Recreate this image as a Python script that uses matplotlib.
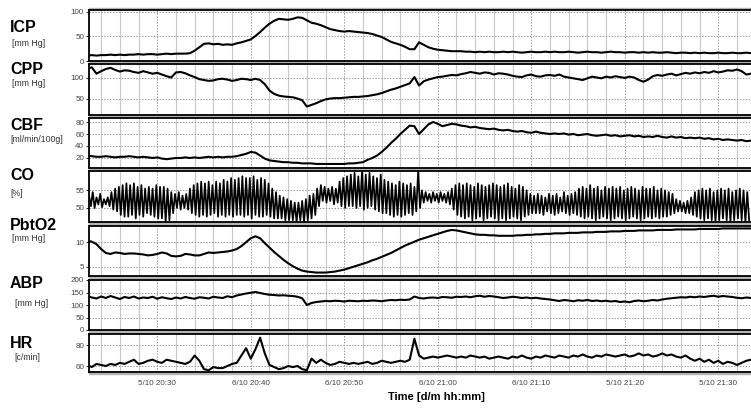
import numpy as np
import matplotlib
matplotlib.use('Agg')
import matplotlib.pyplot as plt
from matplotlib.patches import Rectangle

plt.rcParams['font.family'] = ['Liberation Sans', 'DejaVu Sans']

# --- dados (tempo em minutos depois das 20:00) ---
# grade comum: 22.5 .. 93.5 a cada 0.5 min (uma linha = 5 min)
t_inicio, t_passo = 22.5, 0.5

icp = [11, 12, 11, 12, 12, 13, 12, 13, 12, 13,
       13, 14, 13, 14, 14, 13, 14, 15, 14, 15,
       15, 15, 16, 21, 28, 35, 36, 34, 35, 33,
       34, 33, 36, 38, 41, 44, 51, 59, 68, 76,
       82, 86, 85, 84, 86, 89, 88, 83, 78, 76,
       73, 69, 65, 63, 61, 60, 61, 60, 59, 58,
       57, 55, 52, 49, 44, 39, 36, 33, 29, 24,
       24, 38, 33, 28, 25, 23, 22, 21, 20, 20,
       20, 19, 19, 18, 19, 18, 19, 18, 18, 19,
       18, 19, 18, 17, 18, 19, 18, 18, 19, 18,
       19, 18, 18, 19, 18, 17, 18, 19, 18, 18,
       17, 18, 19, 18, 18, 17, 18, 18, 17, 18,
       17, 18, 17, 17, 18, 17, 16, 17, 17, 16,
       17, 16, 17, 16, 16, 17, 16, 16, 17, 16,
       16, 17, 16]

cpp = [122, 125, 110, 116, 121, 124, 119, 115, 118, 117,
       114, 112, 116, 113, 110, 112, 108, 104, 101, 113,
       114, 111, 106, 102, 97, 95, 93, 94, 97, 98,
       96, 93, 95, 98, 97, 95, 98, 95, 85, 70,
       62, 58, 56, 55, 54, 51, 47, 32, 36, 40,
       45, 49, 51, 52, 52, 53, 54, 55, 55, 56,
       57, 59, 61, 64, 68, 72, 75, 79, 83, 87,
       102, 82, 92, 96, 99, 102, 103, 105, 107, 106,
       109, 111, 114, 112, 110, 113, 112, 108, 111, 110,
       108, 105, 103, 102, 106, 108, 104, 103, 106, 107,
       105, 108, 103, 101, 99, 97, 95, 99, 103, 101,
       99, 103, 101, 104, 102, 100, 103, 101, 95, 91,
       96, 104, 107, 105, 108, 110, 106, 109, 112, 110,
       113, 111, 114, 112, 116, 113, 115, 118, 117, 120,
       116, 108, 110]

cbf = [24, 23, 22, 22, 23, 22, 21, 22, 22, 23,
       22, 21, 22, 21, 20, 21, 19, 18, 19, 20,
       20, 21, 20, 21, 20, 21, 22, 21, 22, 21,
       22, 22, 23, 25, 27, 30, 29, 24, 19, 16,
       15, 14, 13, 13, 12, 12, 11, 11, 11, 10,
       10, 10, 10, 10, 10, 10, 11, 11, 12, 13,
       17, 20, 24, 30, 37, 45, 52, 60, 67, 74,
       73, 60, 68, 76, 80, 77, 73, 75, 77, 76,
       74, 73, 71, 72, 70, 69, 68, 69, 67, 66,
       67, 65, 64, 65, 63, 62, 64, 62, 61, 60,
       61, 60, 61, 59, 60, 58, 59, 60, 58, 57,
       58, 59, 57, 58, 56, 57, 58, 56, 57, 55,
       56, 55, 57, 55, 54, 56, 54, 55, 53, 54,
       53, 54, 52, 53, 51, 52, 50, 51, 50, 49,
       50, 48, 49]

pbto2 = [10.3, 10.1, 9.6, 8.6, 7.8, 7.6, 7.9, 7.8, 7.6, 7.7,
         7.7, 7.6, 7.5, 7.3, 7.4, 7.6, 7.9, 7.7, 7.2, 7.1,
         7.2, 7.6, 7.5, 7.3, 7.3, 7.6, 7.9, 7.8, 7.9, 8.0,
         8.1, 8.3, 8.6, 9.2, 10.0, 10.8, 11.2, 10.8, 9.8, 8.9,
         8.0, 7.2, 6.4, 5.7, 5.1, 4.6, 4.2, 4.0, 3.9, 3.8,
         3.8, 3.8, 3.9, 4.0, 4.2, 4.4, 4.7, 5.0, 5.3, 5.6,
         5.9, 6.3, 6.6, 7.0, 7.4, 7.8, 8.3, 8.8, 9.3, 9.7,
         10.1, 10.5, 10.8, 11.1, 11.4, 11.7, 12.0, 12.3, 12.5, 12.4,
         12.2, 12.0, 11.8, 11.6, 11.5, 11.5, 11.4, 11.4, 11.3, 11.3,
         11.3, 11.3, 11.4, 11.4, 11.5, 11.5, 11.6, 11.6, 11.7, 11.7,
         11.8, 11.8, 11.8, 11.9, 11.9, 11.9, 12.0, 12.0, 12.0, 12.1,
         12.1, 12.1, 12.2, 12.2, 12.2, 12.3, 12.3, 12.3, 12.4, 12.4,
         12.4, 12.4, 12.5, 12.5, 12.5, 12.5, 12.6, 12.6, 12.6, 12.6,
         12.6, 12.7, 12.7, 12.7, 12.7, 12.7, 12.8, 12.8, 12.8, 12.8,
         12.8, 12.8, 12.8]

abp = [136, 130, 126, 134, 128, 136, 130, 124, 132, 128,
       134, 126, 130, 128, 133, 125, 131, 127, 124, 130,
       126, 132, 128, 125, 131, 129, 126, 133, 130, 128,
       135, 131, 138, 142, 146, 149, 152, 148, 144, 141,
       140, 138, 139, 137, 136, 133, 127, 100, 108, 112,
       114, 116, 115, 117, 116, 114, 117, 116, 115, 117,
       116, 118, 117, 115, 118, 120, 119, 121, 120, 122,
       134, 128, 126, 129, 130, 128, 132, 131, 129, 133,
       132, 134, 131, 135, 137, 133, 136, 134, 131, 128,
       130, 133, 131, 128, 130, 127, 129, 126, 124, 122,
       119, 116, 120, 118, 115, 119, 117, 120, 116, 118,
       115, 117, 114, 116, 112, 114, 111, 116, 118, 115,
       117, 120, 118, 122, 125, 127, 129, 131, 130, 133,
       131, 134, 132, 135, 137, 133, 136, 134, 132, 129,
       127, 130, 128]

hr = [61, 59, 62, 61, 60, 62, 61, 63, 62, 64,
      66, 62, 63, 65, 66, 64, 63, 66, 65, 64,
      63, 62, 64, 70, 65, 57, 56, 59, 58, 58,
      60, 62, 63, 70, 77, 67, 76, 87, 72, 61,
      59, 57, 58, 60, 59, 60, 57, 56, 67, 63,
      66, 63, 61, 62, 64, 63, 62, 63, 62, 63,
      64, 62, 63, 65, 64, 63, 64, 65, 64, 66,
      86, 70, 67, 68, 69, 68, 69, 70, 69, 68,
      69, 68, 70, 69, 68, 69, 67, 68, 69, 68,
      67, 69, 68, 70, 68, 67, 69, 68, 70, 69,
      68, 70, 69, 68, 70, 69, 71, 69, 68, 70,
      69, 71, 70, 69, 70, 71, 69, 70, 72, 70,
      71, 69, 70, 72, 70, 71, 69, 68, 70, 67,
      65, 67, 64, 66, 63, 65, 62, 64, 63, 61,
      63, 65, 66]

# CO oscila rápido: picos e vales lidos a cada 0.4 min (uma linha = 4 min)
co_inicio, co_passo = 22.7, 0.4
co_picos = [53.5, 54.5, 53.0, 54.0, 52.5, 53.0, 54.5, 55.5, 56.0, 56.5,
            57.0, 56.5, 57.0, 56.0, 56.5, 55.5, 56.0, 55.5, 56.5, 56.0,
            56.0, 55.5, 54.5, 54.0, 54.5, 53.5, 54.0, 55.5, 56.5, 57.0,
            57.5, 57.0, 57.5, 56.5, 57.5, 57.0, 58.0, 57.5, 58.5, 58.0,
            58.5, 59.0, 58.5, 58.5, 59.0, 58.0, 58.5, 58.0, 57.0, 55.5,
            54.5, 53.5, 53.0, 52.5, 52.0, 51.5, 51.5, 52.0, 52.5, 53.5,
            54.0, 55.5, 56.5, 56.0, 55.5, 56.0, 55.5, 57.5, 58.5, 59.0,
            59.5, 60.0, 59.0, 60.5, 59.5, 60.0, 59.0, 58.5, 59.5, 58.0,
            57.5, 57.0, 56.5, 57.5, 57.0, 56.5, 57.0, 56.0, 60.5, 55.0,
            54.5, 54.0, 54.5, 54.0, 54.5, 54.0, 54.5, 55.5, 56.5, 57.0,
            56.5, 57.0, 56.5, 56.0, 57.0, 56.5, 56.0, 56.5, 57.0, 56.5,
            56.0, 56.5, 57.0, 56.0, 55.5, 56.5, 56.0, 55.0, 54.0, 53.5,
            54.0, 53.5, 53.0, 54.0, 53.5, 54.0, 53.0, 54.5, 53.5, 54.0,
            54.5, 55.5, 56.0, 55.5, 56.5, 55.5, 56.0, 55.0, 56.0, 55.5,
            56.0, 55.5, 56.0, 55.0, 55.5, 56.0, 55.5, 55.0, 56.0, 55.5,
            55.5, 56.0, 55.0, 55.5, 55.0, 54.5, 54.0, 52.5, 52.0, 51.5,
            52.0, 53.0, 54.5, 55.0, 55.5, 55.0, 55.5, 54.5, 55.0, 55.5,
            55.0, 55.5, 54.5, 55.0, 55.5, 55.0, 54.5]
co_vales = [50.5, 50.0, 51.0, 50.2, 51.0, 50.5, 49.5, 49.0, 48.0, 47.5,
            47.5, 48.0, 47.0, 48.0, 47.5, 48.5, 48.0, 47.5, 47.0, 47.0,
            46.0, 46.5, 48.5, 50.0, 49.5, 50.0, 49.5, 48.5, 48.0, 47.5,
            48.0, 47.5, 48.0, 48.5, 47.5, 48.0, 47.5, 48.0, 47.5, 48.0,
            48.0, 47.5, 48.0, 47.0, 48.0, 47.5, 47.5, 48.0, 47.5, 47.0,
            47.0, 47.0, 46.5, 46.5, 46.5, 46.0, 46.5, 46.0, 46.5, 47.0,
            48.0, 50.5, 52.0, 51.5, 52.0, 51.0, 51.5, 50.5, 50.0, 50.5,
            50.5, 50.0, 50.5, 49.5, 50.0, 50.5, 49.5, 49.0, 48.5, 48.5,
            48.0, 47.5, 48.0, 47.5, 48.0, 48.5, 48.0, 49.0, 50.0, 51.5,
            52.0, 51.5, 52.0, 51.5, 52.0, 51.5, 51.0, 49.5, 48.0, 47.5,
            47.0, 47.5, 46.5, 47.0, 47.5, 46.5, 47.0, 47.5, 47.0, 46.5,
            47.0, 46.5, 47.0, 47.5, 47.0, 46.5, 47.5, 48.0, 48.5, 48.5,
            48.5, 48.0, 49.0, 48.5, 48.0, 48.5, 49.0, 48.5, 48.0, 48.5,
            48.0, 47.5, 47.0, 47.5, 47.0, 46.5, 47.0, 47.5, 47.0, 46.5,
            47.0, 47.5, 47.0, 46.5, 47.0, 47.5, 47.0, 46.5, 47.0, 47.5,
            47.0, 47.5, 47.0, 47.5, 47.5, 48.0, 48.5, 49.0, 49.0, 48.5,
            48.5, 48.0, 47.5, 47.0, 46.5, 47.0, 46.5, 46.0, 46.5, 47.0,
            46.5, 46.0, 46.5, 47.0, 46.5, 46.0, 46.5]

nomes = ['ICP', 'CPP', 'CBF', 'CO', 'PbtO2', 'ABP', 'HR']
unidades = ['[mm Hg]', '[mm Hg]', '[ml/min/100g]', '[%]', '[mm Hg]', '[mm Hg]', '[c/min]']
yticks = [[0, 50, 100], [50, 100], [20, 40, 60, 80], [50, 55], [5, 10],
          [0, 50, 100, 150, 200], [60, 80]]
xticks = [30, 40, 50, 60, 70, 80, 90]
xtick_labels = ['5/10 20:30', '6/10 20:40', '6/10 20:50', '6/10 21:00',
                '6/10 21:10', '5/10 21:20', '5/10 21:30']

# --- layout em pixels da figura (751 x 408) ---
W, H = 751, 408
esq, dir_ = 89, 751
paineis = [(10, 61), (64, 115), (118, 168), (171, 222), (226, 276), (280, 330), (334, 372)]
limites_y = [(0, 104), (12, 133), (3.3, 86.7), (46, 60.5), (3.1, 13.3), (0, 200), (54.3, 90.5)]
pos_nome = [(10, 27, 12, 43), (10, 70, 12, 84), (10, 126, 10, 140), (10, 175, 10, 193),
            (10, 225, 12, 238), (10, 284, 15, 303), (10, 343, 14, 358)]

fig = plt.figure(figsize=(W / 100, H / 100), dpi=100)

# faixa cinza atrás dos painéis (dá o efeito de borda dupla)
fig.add_artist(Rectangle((esq / W, 1 - 374 / H), (dir_ - esq) / W, 366 / H,
                         transform=fig.transFigure, color='#b4b4b4', zorder=-1))

series = [icp, cpp, cbf, None, pbto2, abp, hr]
t = t_inicio + t_passo * np.arange(len(icp))

for i, (topo, base) in enumerate(paineis):
    ax = fig.add_axes([esq / W, 1 - base / H, (dir_ - esq) / W, (base - topo) / H])
    ax.set_facecolor('white')
    if series[i] is None:
        co_v = np.empty(2 * len(co_picos))
        co_v[0::2] = co_picos
        co_v[1::2] = co_vales
        co_t = co_inicio + (co_passo / 2) * np.arange(len(co_v))
        ax.plot(co_t, co_v, color='black', lw=1.25)
    else:
        ax.plot(t, series[i], color='black', lw=1.5)

    ax.set_xlim(22.7, 93.5)
    ax.set_ylim(*limites_y[i])
    ax.set_yticks(yticks[i])
    ax.set_xticks(xticks)
    ax.set_xticks(np.arange(24, 94, 2), minor=True)
    ax.grid(which='minor', axis='x', color='#c8c8c8', lw=0.8, ls='-')
    ax.grid(which='major', axis='x', color='#9a9a9a', lw=0.7, ls=(0, (1.5, 1.5)))
    ax.grid(which='major', axis='y', color='#9a9a9a', lw=0.7, ls=(0, (1.5, 1.5)))
    ax.tick_params(axis='y', labelsize=5.8, labelcolor='#444', length=2, width=0.6, pad=1.5)
    ax.tick_params(axis='x', which='both', length=0)
    if i == len(paineis) - 1:
        ax.set_xticklabels(xtick_labels)
        ax.tick_params(axis='x', labelsize=5.8, labelcolor='#444', pad=6)
    else:
        ax.set_xticklabels([])
    for lado in ['top', 'bottom', 'left']:
        ax.spines[lado].set_linewidth(1.3)
    ax.spines['right'].set_visible(False)

    xn, yn, xu, yu = pos_nome[i]
    fig.text(xn / W, 1 - yn / H, nomes[i], fontsize=11.5, fontweight='bold',
             va='center', ha='left')
    fig.text(xu / W, 1 - yu / H, unidades[i], fontsize=6.3, color='#333',
             va='center', ha='left')

fig.text(436 / W, 1 - 397 / H, 'Time [d/m hh:mm]', fontsize=8, fontweight='bold',
         ha='center', va='center')

fig.savefig('out.png', dpi=100)
